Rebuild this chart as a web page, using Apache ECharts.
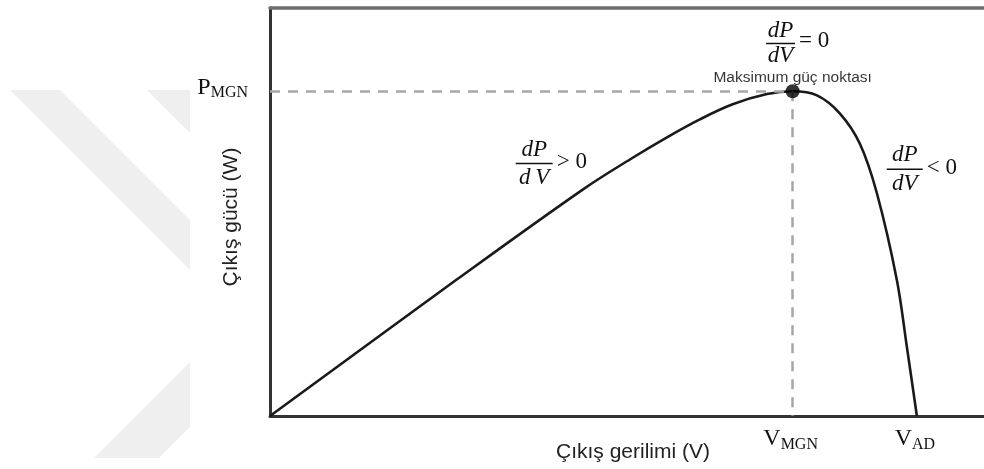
<!DOCTYPE html>
<html>
<head>
<meta charset="utf-8">
<script src="https://cdn.jsdelivr.net/npm/echarts@6/dist/echarts.min.js"></script>
<style>
  html, body { margin: 0; padding: 0; background: #fff; }
  #chart { width: 984px; height: 469px; }
</style>
</head>
<body>
<div id="chart"></div>
<script>
// P–V characteristic of a PV module, in normalised units (0–100 on both axes)
const voltage = [0, 26.2, 43.8, 50.8, 55.6, 60.2, 64.8, 69.6, 73.2, 76.6, 79.8, 82.6, 85.0, 87.8, 89.2, 90.6];
const power   = [0, 33.5, 55.5, 63.3, 68.3, 72.7, 76.4, 78.9, 79.6, 78.6, 74.2, 66.8, 54.6, 33.3, 16.9, 0];

// maximum power point and open-circuit voltage
const mppVoltage = 73.2;
const mppPower = 79.6;
const openCircuitVoltage = 90.6;

// tick labels: main symbol + subscript
const xTickValues = [mppVoltage, openCircuitVoltage];
const xTickMain = ['V', 'V'];
const xTickSub = ['MGN', 'AD'];
const yTickValues = [mppPower];
const yTickMain = ['P'];
const yTickSub = ['MGN'];

const mppLabel = 'Maksimum güç noktası';
const xTitle = 'Çıkış gerilimi (V)';
const yTitle = 'Çıkış gücü (W)';

const SERIF = '"Liberation Serif", "Times New Roman", serif';
const SANS = '"Liberation Sans", Arial, sans-serif';
const INK = '#111';

const chart = echarts.init(document.getElementById('chart'), null, { renderer: 'canvas' });

const curve = voltage.map((v, i) => [v, power[i]]);

const hiddenAxisParts = {
  axisTick: { show: false },
  axisLabel: { show: false },
  splitLine: { show: false }
};

chart.setOption({
  animation: false,
  backgroundColor: '#fff',
  grid: { left: 270, right: 0, top: 8, bottom: 53 },
  xAxis: [
    Object.assign({
      type: 'value', min: 0, max: 100, position: 'bottom',
      axisLine: { show: true, lineStyle: { color: '#333', width: 3 } },
      name: xTitle, nameLocation: 'middle', nameGap: 26,
      nameTextStyle: { fontFamily: SANS, fontSize: 21, color: '#222', padding: [0, 0, 0, 12] }
    }, hiddenAxisParts),
    Object.assign({
      type: 'value', min: 0, max: 100, position: 'top',
      axisLine: { show: true, lineStyle: { color: '#6e6e6e', width: 3.5 } }
    }, hiddenAxisParts)
  ],
  yAxis: Object.assign({
    type: 'value', min: 0, max: 100,
    axisLine: { show: true, lineStyle: { color: '#333', width: 3 } },
    name: yTitle, nameLocation: 'middle', nameGap: 28,
    nameTextStyle: { fontFamily: SANS, fontSize: 21, color: '#222', padding: [0, 10, 0, 0] }
  }, hiddenAxisParts),
  series: [
    {
      type: 'line',
      data: curve,
      smooth: 0.35,
      symbol: 'none',
      lineStyle: { color: '#1a1a1a', width: 2.6 },
      z: 3,
      markLine: {
        silent: true,
        symbol: 'none',
        label: { show: false },
        lineStyle: { color: '#a6a6a6', width: 2.5, type: [10, 8] },
        data: [
          [{ coord: [0, mppPower] }, { coord: [mppVoltage, mppPower] }],
          [{ coord: [mppVoltage, mppPower] }, { coord: [mppVoltage, 0] }]
        ]
      }
    },
    {
      type: 'scatter',
      data: [[mppVoltage, mppPower]],
      symbolSize: 14,
      itemStyle: { color: '#000' },
      z: 5,
      emphasis: { disabled: true },
      label: {
        show: true,
        position: 'top',
        distance: -1,
        formatter: mppLabel,
        fontFamily: SANS,
        fontSize: 15.5,
        color: '#000'
      }
    }
  ]
});

// text width helper for placing subscripts
const measureCtx = document.createElement('canvas').getContext('2d');
function textWidth(str, font) {
  measureCtx.font = font;
  return measureCtx.measureText(str).width;
}

function txt(str, x, y, font, align) {
  return {
    type: 'text',
    z: 10,
    style: {
      text: str, x: x, y: y, font: font, fill: INK,
      align: align || 'left', textAlign: align || 'left',
      verticalAlign: 'middle', textVerticalAlign: 'middle'
    }
  };
}

// symbol with subscript, positioned by its left edge and the symbol's middle line
function subscripted(main, sub, left, midY) {
  const mainFont = '24px ' + SERIF;
  const subFont = '16px ' + SERIF;
  const w = textWidth(main, mainFont);
  return [txt(main, left, midY, mainFont), txt(sub, left + w, midY + 6, subFont)];
}
function subscriptedWidth(main, sub) {
  return textWidth(main, '24px ' + SERIF) + textWidth(sub, '16px ' + SERIF);
}

// derivative fraction dP/dV followed by a relation, centred on the fraction bar
function fraction(cx, cy, halfW, numDy, denDy, relation, relDy, denText) {
  const font = 'italic 23px ' + SERIF;
  return [
    txt('dP', cx, cy + numDy, font, 'center'),
    {
      type: 'rect', z: 10,
      shape: { x: cx - halfW, y: cy - 0.75, width: halfW * 2, height: 1.5 },
      style: { fill: INK }
    },
    txt(denText || 'dV', cx, cy + denDy, font, 'center'),
    txt(relation, cx + halfW + 4, cy + relDy, '23px ' + SERIF, 'left')
  ];
}

function drawOverlay() {
  const els = [];
  const toPx = (p) => chart.convertToPixel({ gridIndex: 0 }, p);
  const origin = toPx([0, 0]);

  // faint background emblem on the left margin
  const band = '#efefef';
  [
    [[10, 90], [60, 90], [190, 220], [190, 270]],
    [[147, 90], [190, 90], [190, 133]],
    [[190, 362], [190, 427], [159, 458], [94, 458]]
  ].forEach(pts => els.push({
    type: 'polygon', z: -10, silent: true,
    shape: { points: pts }, style: { fill: band }
  }));

  // x tick labels
  xTickValues.forEach((v, i) => {
    const p = toPx([v, 0]);
    const w = subscriptedWidth(xTickMain[i], xTickSub[i]);
    els.push(...subscripted(xTickMain[i], xTickSub[i], p[0] - w / 2 - 2, origin[1] + 23));
  });

  // y tick labels
  yTickValues.forEach((v, i) => {
    const p = toPx([0, v]);
    const w = subscriptedWidth(yTickMain[i], yTickSub[i]);
    els.push(...subscripted(yTickMain[i], yTickSub[i], p[0] - 22 - w, p[1] - 4));
  });

  // slope annotations
  const f1 = toPx([71.5, 91.3]);
  els.push(...fraction(f1[0], f1[1], 14.5, -13, 12, '= 0', -3));
  const f2 = toPx([37.0, 61.9]);
  els.push(...fraction(f2[0], f2[1], 18.5, -13.5, 14.5, '> 0', -1, 'd\u2009V'));
  const f3 = toPx([88.9, 60.5]);
  els.push(...fraction(f3[0], f3[1], 18, -14, 15, '< 0', -1));

  chart.setOption({ graphic: { elements: els } });
}

drawOverlay();
</script>
</body>
</html>
